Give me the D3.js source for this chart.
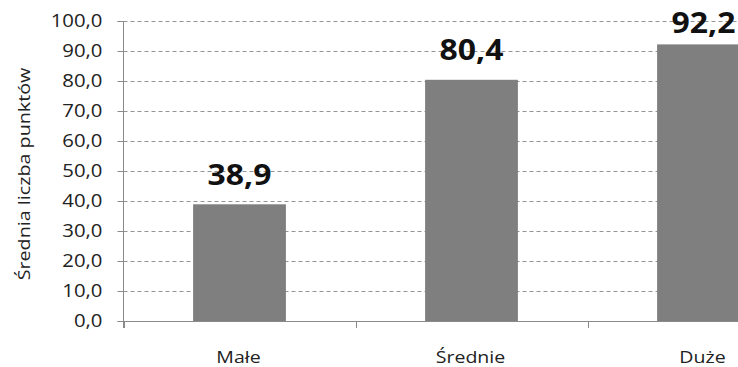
<!DOCTYPE html>
<html>
<head>
<meta charset="utf-8">
<script src="https://cdn.jsdelivr.net/npm/d3@7/dist/d3.min.js"></script>
<style>
  html, body { margin: 0; padding: 0; background: #fff; overflow: hidden; }
  svg { display: block; }
</style>
</head>
<body>
<svg id="chart" width="738" height="367"></svg>
<script>
// Average points by group size
const categories = ["Małe", "Średnie", "Duże"];
const values = [38.9, 80.4, 92.2];
const yTicks = [0, 10, 20, 30, 40, 50, 60, 70, 80, 90, 100];
const yTitle = "Średnia liczba punktów";

(function () {
  const svg = d3.select("#chart");
  const plotLeft = 123.5, plotTop = 21, plotBottom = 321;
  const band = 232;
  const plotRight = plotLeft + band * categories.length;   // plot runs past the page edge
  const FONT = "'Open Sans', sans-serif";
  const GRID = "#949494", AXIS = "#8a8a8a";

  const x = d3.scaleBand().domain(categories).range([plotLeft, plotRight]).paddingInner(0.6).paddingOuter(0.3);
  const y = d3.scaleLinear().domain([0, 100]).range([plotBottom, plotTop]);
  const fmt = v => d3.format(".1f")(v).replace(".", ",");

  // dashed gridlines
  svg.append("g").selectAll("line").data(yTicks.filter(t => t > 0)).join("line")
    .attr("x1", plotLeft).attr("x2", plotRight)
    .attr("y1", d => Math.round(y(d)) + 0.5).attr("y2", d => Math.round(y(d)) + 0.5)
    .attr("stroke", GRID).attr("stroke-width", 1).attr("stroke-dasharray", "4,3");

  // bars
  svg.append("g").selectAll("rect").data(values).join("rect")
    .attr("x", (d, i) => x(categories[i]))
    .attr("width", x.bandwidth())
    .attr("y", d => y(d))
    .attr("height", d => y(0) - y(d))
    .attr("fill", "#7f7f7f");

  // y axis
  const yAxis = d3.axisLeft(y).tickValues(yTicks).tickSize(6).tickPadding(15).tickFormat(fmt);
  const gy = svg.append("g").attr("transform", `translate(${plotLeft},0)`).call(yAxis);
  gy.select(".domain").attr("stroke", AXIS).attr("d", `M-6,${plotTop + 0.5}H0V${plotBottom + 7}`);
  gy.selectAll(".tick line").attr("stroke", AXIS);
  gy.selectAll(".tick text")
    .attr("fill", "#222").style("font-family", FONT).style("font-size", "18px")
    .attr("transform", function () {
      const tx = +d3.select(this).attr("x");
      return `translate(${tx},0) scale(1.13,1) translate(${-tx},0)`;
    });

  // x axis: baseline and category separators
  const gx = svg.append("g");
  gx.append("line").attr("x1", plotLeft - 6).attr("x2", plotRight)
    .attr("y1", plotBottom + 0.5).attr("y2", plotBottom + 0.5).attr("stroke", AXIS);
  gx.selectAll("line.sep").data(d3.range(categories.length + 1)).join("line").attr("class", "sep")
    .attr("x1", i => Math.round(plotLeft + i * band) + 0.5).attr("x2", i => Math.round(plotLeft + i * band) + 0.5)
    .attr("y1", plotBottom).attr("y2", plotBottom + 7).attr("stroke", AXIS);
  gx.selectAll("text").data(categories).join("text")
    .attr("transform", d => `translate(${x(d) + x.bandwidth() / 2 - 1},363) scale(1.15,1)`)
    .attr("text-anchor", "middle")
    .attr("fill", "#222")
    .style("font-family", FONT).style("font-size", "17px")
    .text(d => d);

  // value labels (kept inside the top of the chart)
  svg.append("g").selectAll("text").data(values).join("text")
    .attr("transform", (d, i) =>
      `translate(${x(categories[i]) + x.bandwidth() / 2},${Math.max(y(d) - 19.5, 33)}) scale(1.1,1)`)
    .attr("text-anchor", "middle")
    .attr("fill", "#111")
    .style("font-family", FONT).style("font-size", "29px").style("font-weight", "bold")
    .text(d => fmt(d));

  // axis title
  svg.append("text")
    .attr("transform", `translate(30,174) rotate(-90) scale(1.16,1)`)
    .attr("text-anchor", "middle")
    .attr("fill", "#222")
    .style("font-family", FONT).style("font-size", "17px")
    .text(yTitle);
})();
</script>
</body>
</html>
